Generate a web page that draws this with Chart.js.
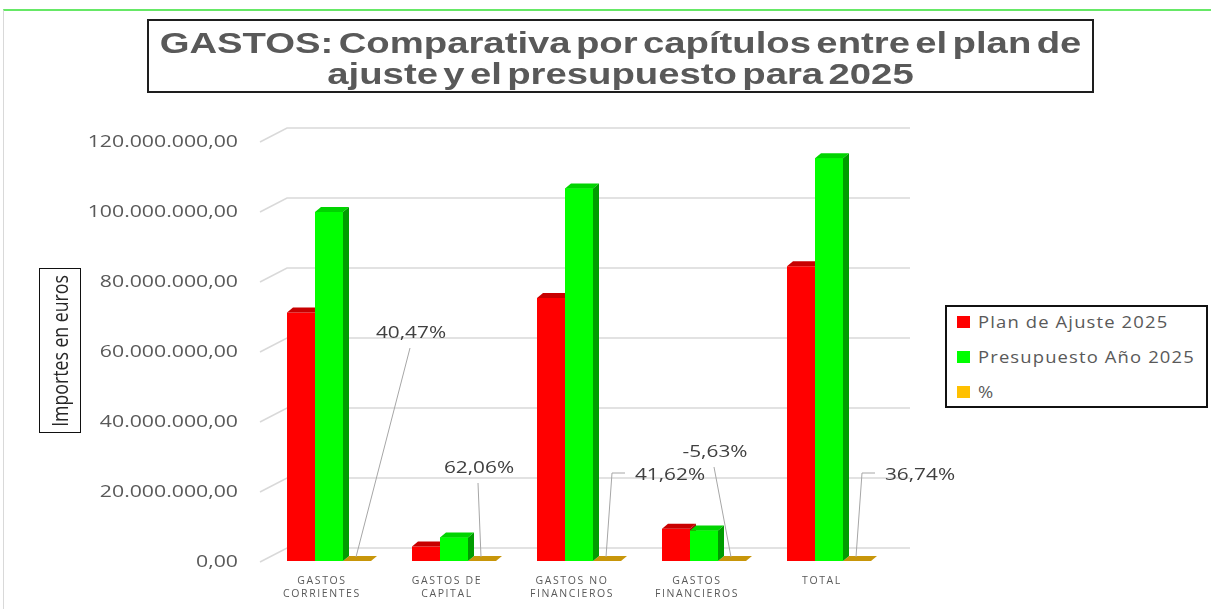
<!DOCTYPE html>
<html lang="es">
<head>
<meta charset="utf-8">
<title>GASTOS: Comparativa por capítulos</title>
<script src="https://cdn.jsdelivr.net/npm/chart.js@4.4.1/dist/chart.umd.min.js"></script>
<style>
html,body{margin:0;padding:0;background:#fff;}
#wrap{position:relative;width:1211px;height:609px;overflow:hidden;font-family:"Open Sans",sans-serif;}
#frame{position:absolute;left:3px;top:9px;right:0;bottom:0;border-top:2px solid #66e866;border-left:1px solid #d9d9d9;}
#chart{position:absolute;left:0;top:0;}
#title{position:absolute;left:147px;top:19px;width:943px;height:63px;border:2px solid #1e1e1e;background:#fff;
  font-family:"Liberation Sans",Arial,sans-serif;font-weight:bold;font-size:29px;line-height:31px;color:#595959;padding-top:7px;box-sizing:content-box;}
#title div{text-align:center;white-space:nowrap;word-spacing:-4px;transform:scaleX(1.32);}
#ytitle{position:absolute;left:39px;top:268px;width:40px;height:163px;border:1.5px solid #111;}
#ytitle span{position:absolute;left:50%;top:50%;white-space:nowrap;font-size:17px;color:#262626;
  transform:translate(-50%,-50%) rotate(-90deg) scale(1.04,1.25);}
#legend{position:absolute;left:945px;top:305px;width:259px;height:99px;border:2px solid #111;background:#fff;}
#legend .item{position:absolute;left:10px;height:20px;display:flex;align-items:center;font-size:16px;color:#595959;letter-spacing:1px;white-space:nowrap;}
#legend .sw{width:13px;height:12px;margin-right:8px;}
#legend .tx{display:inline-block;transform:scaleX(1.15);transform-origin:left center;}
</style>
</head>
<body>
<div id="wrap">
  <div id="frame"></div>
  <canvas id="chart" width="1211" height="609"></canvas>
  <div id="title"><div>GASTOS: Comparativa por capítulos entre el plan de</div><div>ajuste y el presupuesto para 2025</div></div>
  <div id="ytitle"><span>Importes en euros</span></div>
  <div id="legend"></div>
</div>
<script>
// Data (euros)
const categories = [['GASTOS','CORRIENTES'], ['GASTOS DE','CAPITAL'], ['GASTOS NO','FINANCIEROS'], ['GASTOS','FINANCIEROS'], 'TOTAL'];
const planAjuste = [71000000, 4150000, 75150000, 9250000, 84200000];
const presupuesto = [99730000, 6730000, 106460000, 8730000, 115100000];
const pctVariacion = [40.47, 62.06, 41.62, -5.63, 36.74];
const seriesNames = ['Plan de Ajuste 2025', 'Presupuesto Año 2025', '%'];

// label placement for the % series, relative to its bar (px)
const pctLabelPos = [
  {dx:54, dy:-228, elbow:false},
  {dx:-3, dy:-93, elbow:false},
  {dx:63, dy:-86, elbow:true},
  {dx:-17, dy:-109, elbow:false},
  {dx:63, dy:-86, elbow:true}
];

const D = {x:6, y:5};   // 3d depth of the bars
const shades = {
  red:{front:'#ff0000', top:'#c80000', side:'#a80000'},
  green:{front:'#00ff00', top:'#00d400', side:'#009c00'},
  flat:'#c8960a'
};

const fmtEur = v => String(Math.round(v)).replace(/\B(?=(\d{3})+(?!\d))/g,'.') + ',00';
const fmtPct = v => v.toFixed(2).replace('.', ',') + '%';

function poly(ctx, pts, color){
  ctx.beginPath(); ctx.moveTo(pts[0][0], pts[0][1]);
  for (const p of pts.slice(1)) ctx.lineTo(p[0], p[1]);
  ctx.closePath(); ctx.fillStyle = color; ctx.fill();
}
function box3d(ctx, el, c, repaint){
  const {x, y, base, width} = el.getProps(['x','y','base','width'], true);
  const l = x - width/2, r = x + width/2;
  if (repaint){ ctx.fillStyle = c.front; ctx.fillRect(l, y, width, base - y); }
  poly(ctx, [[l,y],[l+D.x,y-D.y],[r+D.x,y-D.y],[r,y]], c.top);
  poly(ctx, [[r,y],[r+D.x,y-D.y],[r+D.x,base-D.y],[r,base]], c.side);
}

const fake3d = {
  id:'fake3d',
  beforeDraw(chart){ chart.ctx.letterSpacing = '1.6px'; },
  beforeDatasetsDraw(chart){
    // back wall grid lines
    const {ctx, chartArea:{left, right}, scales:{y}} = chart;
    ctx.save();
    ctx.strokeStyle = '#d9d9d9'; ctx.lineWidth = 1.5;
    ctx.beginPath();
    for (const t of y.ticks){
      const py = y.getPixelForValue(t.value);
      ctx.moveTo(left - 6.5, py + 1);
      ctx.lineTo(left + 20.5, py - 13);
      ctx.lineTo(right + 18.5, py - 13);
    }
    ctx.stroke();
    ctx.restore();
  },
  afterDatasetsDraw(chart){
    const ctx = chart.ctx;
    const mR = chart.getDatasetMeta(0), mG = chart.getDatasetMeta(1), mP = chart.getDatasetMeta(2);
    ctx.save();
    mP.data.forEach(el=>{
      const {x, base, width} = el.getProps(['x','base','width'], true);
      const l = x - width/2, r = x + width/2;
      poly(ctx, [[l,base],[r,base],[r+D.x,base-D.y],[l+D.x,base-D.y]], shades.flat);
    });
    mR.data.forEach((el,i)=>{
      box3d(ctx, el, shades.red, false);
      box3d(ctx, mG.data[i], shades.green, true);
    });
    ctx.restore();
  },
  afterDraw(chart){
    const {ctx, scales:{y}} = chart;
    ctx.save();
    ctx.letterSpacing = '0px';
    // y tick labels
    ctx.font = '17px "Open Sans"'; ctx.fillStyle = '#595959';
    ctx.textAlign = 'right'; ctx.textBaseline = 'middle';
    for (const t of y.ticks){
      const py = y.getPixelForValue(t.value);
      ctx.save(); ctx.translate(238, py + 1); ctx.scale(1.25, 1);
      ctx.fillText(fmtEur(t.value), 0, 0); ctx.restore();
    }
    // % labels with leader lines
    const mP = chart.getDatasetMeta(2);
    ctx.font = '16px "Open Sans"'; ctx.textAlign = 'center';
    mP.data.forEach((el,i)=>{
      const {x, base} = el.getProps(['x','base'], true);
      const p = pctLabelPos[i];
      const lx = x + p.dx, ly = base + p.dy;
      ctx.strokeStyle = '#a6a6a6'; ctx.lineWidth = 1;
      ctx.beginPath();
      if (p.elbow){ ctx.moveTo(lx - 45, ly - 2); ctx.lineTo(lx - 58, ly - 2); }
      else ctx.moveTo(lx - 1, ly + 15);
      ctx.lineTo(x - 1, base - 4);
      ctx.stroke();
      ctx.fillStyle = '#404040';
      ctx.save(); ctx.translate(lx, ly); ctx.scale(1.3, 1);
      ctx.fillText(fmtPct(pctVariacion[i]), 0, 0); ctx.restore();
    });
    ctx.restore();
  }
};

const chart = new Chart(document.getElementById('chart'), {
  type:'bar',
  data:{
    labels:categories,
    datasets:[
      {label:seriesNames[0], data:planAjuste, backgroundColor:shades.red.front},
      {label:seriesNames[1], data:presupuesto, backgroundColor:shades.green.front},
      {label:seriesNames[2], data:pctVariacion, backgroundColor:'#ffc000'}
    ]
  },
  options:{
    responsive:false, animation:false, devicePixelRatio:1,
    layout:{padding:{left:0, right:319.5, top:141, bottom:0}},
    datasets:{bar:{categoryPercentage:0.672, barPercentage:1, borderWidth:0}},
    plugins:{legend:{display:false}, tooltip:{enabled:false}, title:{display:false}},
    scales:{
      x:{
        grid:{display:false}, border:{display:false},
        ticks:{color:'#595959', font:{family:'Open Sans', size:10.5, lineHeight:1.2}, padding:6, labelOffset:-7, maxRotation:0, autoSkip:false},
        afterFit(s){ s.height = 48; }
      },
      y:{
        min:0, max:120000000,
        grid:{display:false}, border:{display:false},
        ticks:{stepSize:20000000, display:false},
        afterFit(s){ s.width = 266.5; }
      }
    }
  },
  plugins:[fake3d]
});

// legend
const legend = document.getElementById('legend');
chart.data.datasets.forEach((ds,i)=>{
  const it = document.createElement('div'); it.className = 'item';
  it.style.top = (5 + 35*i) + 'px';
  it.innerHTML = `<span class="sw" style="background:${ds.backgroundColor}"></span><span class="tx">${ds.label}</span>`;
  legend.appendChild(it);
});
</script>
</body>
</html>
